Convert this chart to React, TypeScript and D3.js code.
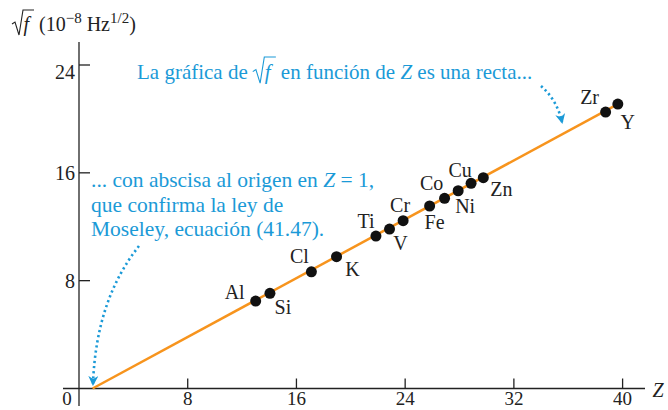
import { useEffect, useRef } from "react";
import * as d3 from "d3";

// chart data
const elements = ["Al", "Si", "Cl", "K", "Ti", "V", "Cr", "Fe", "Co", "Ni", "Cu", "Zn", "Zr", "Y"];
const zValues = [13.0, 14.05, 17.1, 18.95, 21.85, 22.85, 23.85, 25.8, 26.9, 27.9, 28.85, 29.75, 38.75, 39.65];
const sqrtF = [6.49, 7.06, 8.66, 9.78, 11.31, 11.83, 12.45, 13.54, 14.11, 14.67, 15.22, 15.64, 20.51, 21.1];

const fitZ = [1, 39.65];
const fitF = [0, 21.1];

const xTicks = [8, 16, 24, 32, 40];
const yTicks = [8, 16, 24];

// label placement around each dot (dx, dy from the dot centre)
const labelOffsets = [
  [-21, -2], [13, 21], [-12, -9], [16, 19], [-10, -8], [11, 21], [-3, -9],
  [5, 23], [-13, -8], [7, 22], [-11, -6], [18, 18], [-16, -8], [10, 25],
];

const BLUE = "#1b9ad7";
const ORANGE = "#f7941d";
const FONT = "Liberation Serif, Times New Roman, serif";

function MoseleyChart() {
  const svgRef = useRef(null);

  useEffect(() => {
    const svg = d3.select(svgRef.current);
    svg.selectAll("*").remove();

    const x = d3.scaleLinear().domain([0, 40]).range([79, 622.6]);
    const y = d3.scaleLinear().domain([0, 24]).range([388.5, 65]);

    const defs = svg.append("defs");
    defs
      .append("marker")
      .attr("id", "arrowBlue")
      .attr("viewBox", "0 0 10 10")
      .attr("refX", 8)
      .attr("refY", 5)
      .attr("markerUnits", "userSpaceOnUse")
      .attr("markerWidth", 10)
      .attr("markerHeight", 10)
      .attr("orient", "auto")
      .append("path")
      .attr("d", "M0,0 L10,5 L0,10 L3,5 Z")
      .attr("fill", BLUE);

    const g = svg.append("g").attr("font-family", FONT);

    // radical sign + italic f, returns width
    const radicalF = (parent, x0, base, size, color) => {
      const k = size / 20;
      parent
        .append("path")
        .attr(
          "d",
          `M${x0},${base - 7 * k} L${x0 + 3 * k},${base - 9 * k} L${x0 + 7 * k},${base + 4 * k} L${x0 + 11 * k},${base - 21 * k} L${x0 + 22 * k},${base - 21 * k}`,
        )
        .attr("fill", "none")
        .attr("stroke", color)
        .attr("stroke-width", 1.1);
      parent
        .append("text")
        .attr("x", x0 + 11.5 * k)
        .attr("y", base)
        .attr("font-size", size)
        .attr("font-style", "italic")
        .attr("fill", color)
        .text("f");
      return 22 * k;
    };

    // axes
    g.append("line")
      .attr("x1", x(0)).attr("x2", x(0))
      .attr("y1", 42).attr("y2", 406)
      .attr("stroke", "#222").attr("stroke-width", 1.3);
    g.append("line")
      .attr("x1", 63).attr("x2", 645)
      .attr("y1", y(0)).attr("y2", y(0))
      .attr("stroke", "#222").attr("stroke-width", 1.3);

    g.selectAll(".xtick")
      .data(xTicks)
      .enter()
      .append("line")
      .attr("x1", (d) => x(d)).attr("x2", (d) => x(d))
      .attr("y1", y(0)).attr("y2", y(0) - 10)
      .attr("stroke", "#222").attr("stroke-width", 1.3);

    g.selectAll(".xlabel")
      .data([0, ...xTicks])
      .enter()
      .append("text")
      .attr("x", (d) => (d === 0 ? x(0) - 12 : x(d)))
      .attr("y", 405)
      .attr("text-anchor", "middle")
      .attr("font-size", 19)
      .attr("fill", "#222")
      .text((d) => d);

    g.selectAll(".ytick")
      .data(yTicks)
      .enter()
      .append("line")
      .attr("x1", x(0)).attr("x2", x(0) + 11)
      .attr("y1", (d) => y(d)).attr("y2", (d) => y(d))
      .attr("stroke", "#222").attr("stroke-width", 1.3);

    g.selectAll(".ylabel")
      .data(yTicks)
      .enter()
      .append("text")
      .attr("x", 75)
      .attr("y", (d) => y(d) + (d === 24 ? 14 : 7))
      .attr("text-anchor", "end")
      .attr("font-size", 20)
      .attr("fill", "#222")
      .text((d) => d);

    g.append("text")
      .attr("x", 658)
      .attr("y", 397)
      .attr("text-anchor", "middle")
      .attr("font-size", 20)
      .attr("font-style", "italic")
      .attr("fill", "#222")
      .text("Z");

    // y axis title
    radicalF(g, 12, 31, 20, "#222");
    const yt = g.append("text").attr("x", 39).attr("y", 31).attr("font-size", 20).attr("fill", "#222");
    yt.append("tspan").text("(10");
    yt.append("tspan").attr("dy", -8).attr("font-size", 15).text("\u22128");
    yt.append("tspan").attr("dy", 8).text(" Hz");
    yt.append("tspan").attr("dy", -8).attr("font-size", 15).text("1/2");
    yt.append("tspan").attr("dy", 8).text(")");

    // fit line
    const line = d3
      .line()
      .x((d) => x(d[0]))
      .y((d) => y(d[1]));
    g.append("path")
      .datum(fitZ.map((z, i) => [z, fitF[i]]))
      .attr("d", line)
      .attr("fill", "none")
      .attr("stroke", ORANGE)
      .attr("stroke-width", 2.5);

    // dots + labels
    g.selectAll(".dot")
      .data(elements)
      .enter()
      .append("circle")
      .attr("cx", (d, i) => x(zValues[i]))
      .attr("cy", (d, i) => y(sqrtF[i]))
      .attr("r", 5.5)
      .attr("fill", "#111");

    g.selectAll(".elabel")
      .data(elements)
      .enter()
      .append("text")
      .attr("x", (d, i) => x(zValues[i]) + labelOffsets[i][0])
      .attr("y", (d, i) => y(sqrtF[i]) + labelOffsets[i][1])
      .attr("text-anchor", "middle")
      .attr("font-size", 20)
      .attr("fill", "#222")
      .text((d) => d);

    // annotation 1
    const AF = 21;
    const a1 = g.append("text").attr("x", 137).attr("y", 79).attr("font-size", AF).attr("fill", BLUE).text("La gráfica de");
    const w1 = a1.node().getComputedTextLength();
    const rw = radicalF(g, 137 + w1 + 5, 79, AF, BLUE);
    const a1b = g.append("text").attr("x", 137 + w1 + 5 + rw + 5).attr("y", 79).attr("font-size", AF).attr("fill", BLUE);
    a1b.append("tspan").text("en función de ");
    a1b.append("tspan").attr("font-style", "italic").text("Z");
    a1b.append("tspan").text(" es una recta...");

    // annotation 2
    const lines2 = [
      ["... con abscisa al origen en ", "Z", " = 1,"],
      ["que confirma la ley de"],
      ["Moseley, ecuación (41.47)."],
    ];
    lines2.forEach((parts, i) => {
      const t = g.append("text").attr("x", 91).attr("y", 187 + i * 24.5).attr("font-size", 21.5).attr("fill", BLUE);
      parts.forEach((p, j) => {
        t.append("tspan").attr("font-style", j === 1 ? "italic" : "normal").text(p);
      });
    });

    // dotted arrows
    g.append("path")
      .attr("d", "M541,86 Q557,100 562,122")
      .attr("fill", "none")
      .attr("stroke", BLUE)
      .attr("stroke-width", 2.6)
      .attr("stroke-dasharray", "2.2,3")
      .attr("marker-end", "url(#arrowBlue)");
    g.append("path")
      .attr("d", "M139,246 Q96,300 93,384")
      .attr("fill", "none")
      .attr("stroke", BLUE)
      .attr("stroke-width", 2.6)
      .attr("stroke-dasharray", "2.2,3")
      .attr("marker-end", "url(#arrowBlue)");
  }, []);

  return <svg ref={svgRef} width={668} height={410} style={{ position: "absolute", left: 0, top: 0, background: "#fff" }}></svg>;
}

export default function App() {
  return <MoseleyChart />;
}
